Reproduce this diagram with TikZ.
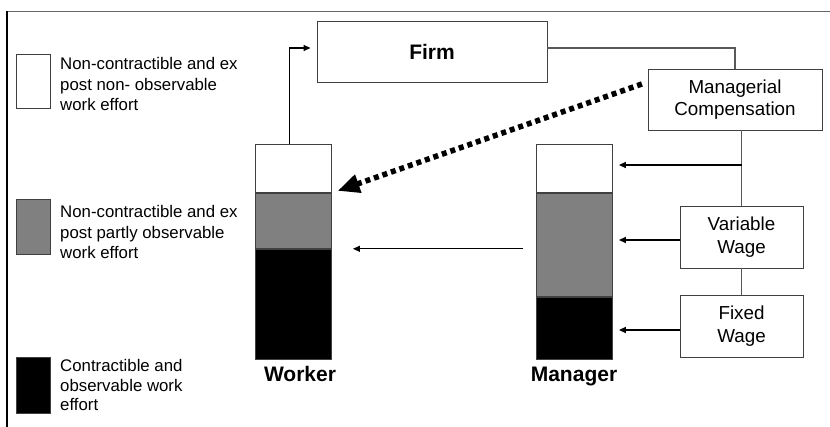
\documentclass[tikz,border=0pt]{standalone}
\usepackage{fontspec}
\setmainfont{Liberation Sans}
\usetikzlibrary{arrows.meta,positioning}

\begin{document}
\begin{tikzpicture}[x=1pt,y=-1pt,
  box/.style={draw=black!75, line width=0.9pt, inner sep=0pt},
  boxtxt/.style={font=\fontsize{18.8}{22.5}\selectfont, align=center},
  legtxt/.style={font=\fontsize{16.8}{20.3}\selectfont, align=left, anchor=north west, inner sep=0pt},
  lbl/.style={font=\fontsize{21}{25}\selectfont\bfseries},
  conn/.style={draw=black!65, line width=1.1pt},
  arr/.style={black, line width=1.4pt, -{Triangle[length=7pt,width=6pt]}}]

\useasboundingbox (0,0) rectangle (830,427);
\draw [black!60, line width=1.5pt] (830,11.5) -- (7,11.5);
\draw [black, line width=1.5pt] (7,11.5) -- (7,427);

% legend
\node[box, fill=white, minimum width=34, minimum height=54, anchor=north west] (legw) at (16,54) {};
\node[box, fill=gray, minimum width=34, minimum height=55, anchor=north west] (legg) at (16,199) {};
\node[box, fill=black, minimum width=34, minimum height=56, anchor=north west] (legb) at (16,357) {};
\node[legtxt] (legwtxt) at (60,57.5) {Non-contractible and ex\\post non- observable\\work effort};
\node[legtxt] (leggtxt) at (60,205.5) {Non-contractible and ex\\post partly observable\\work effort};
\node[legtxt, font=\fontsize{16.8}{19.3}\selectfont] (legbtxt) at (60,359.5) {Contractible and\\observable work\\effort};

% worker bar
\node[box, fill=white, minimum width=76, minimum height=48, anchor=north west] (wtop) at (255,144) {};
\node[box, fill=gray, minimum width=76, minimum height=55, below=0pt of wtop] (wmid) {};
\node[box, fill=black, minimum width=76, minimum height=110, below=0pt of wmid] (wlow) {};
\node[lbl, anchor=base] (worker) at (300,382) {Worker};

% manager bar
\node[box, fill=white, minimum width=76, minimum height=48, anchor=north west] (mtop) at (536,144) {};
\node[box, fill=gray, minimum width=76, minimum height=103, below=0pt of mtop] (mmid) {};
\node[box, fill=black, minimum width=76, minimum height=62, below=0pt of mmid] (mlow) {};
\node[lbl, anchor=base] (manager) at (574,382) {Manager};

% boxes
\node[box, lbl, fill=white, minimum width=230, minimum height=61] (firm) at (432,51.5) {Firm};
\node[box, boxtxt, fill=white, minimum width=174, minimum height=61] (mgr) at (735,99.5) {Managerial\\Compensation};
\node[box, boxtxt, fill=white, minimum width=123, minimum height=62] (var) at (741.5,237) {Variable\\Wage};
\node[box, boxtxt, fill=white, minimum width=123, minimum height=62] (fix) at (741.5,326) {Fixed\\Wage};

% connectors
\draw[arr, shorten >=6pt] ([xshift=-4pt]wtop.north) |- ([yshift=3.5pt]firm.west);
\draw[conn] ([yshift=3.5pt]firm.east) -| (mgr.north);
\draw[conn] (var.north |- mgr.south) -- (var.north);
\draw[conn] (var.south) -- (fix.north);
\coordinate (tap) at (742,165);
\draw[arr, shorten >=6pt] (tap) -- (tap -| mtop.east);
\draw[arr, shorten >=6pt] ([yshift=-3pt]var.west) -- ([yshift=-3pt]var.west -| mmid.east);
\draw[arr, shorten >=6pt] ([yshift=-4pt]fix.west) -- ([yshift=-4pt]fix.west -| mlow.east);
\draw[arr, line width=1.1pt, shorten <=13pt, shorten >=21pt] (mmid.west |- wmid.south) -- (wmid.south east);
\draw[black, line width=5.5pt, dash pattern=on 5pt off 4pt, -{Triangle[length=22pt,width=18pt]}, shorten <=6pt, shorten >=6pt] ([yshift=17.5pt]mgr.west) -- (wtop.south east);

\end{tikzpicture}
\end{document}
